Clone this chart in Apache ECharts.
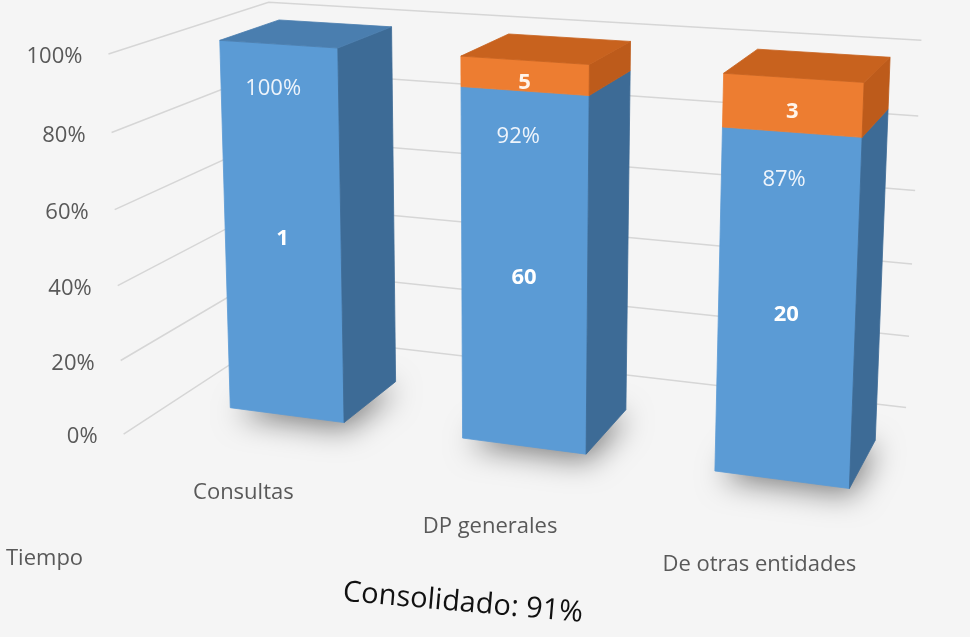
<!DOCTYPE html>
<html><head><meta charset="utf-8">
<script src="https://cdn.jsdelivr.net/npm/echarts@6/dist/echarts.min.js"></script>
<style>html,body{margin:0;padding:0;background:#f5f5f5}#c{width:970px;height:637px}</style>
</head><body><div id="c"></div>
<script>
// ---- data ----
const categories = ['Consultas', 'DP generales', 'De otras entidades'];
const onTime = [1, 60, 20];   // blue segment (count)
const late = [0, 5, 3];       // orange segment (count)
const yTicks = [0, 20, 40, 60, 80, 100];
const legendLabel = 'Tiempo';
const summaryLabel = 'Consolidado';

const totals = categories.map((_, i) => onTime[i] + late[i]);
const bluePct = onTime.map((v, i) => v / totals[i] * 100);
const orangePct = late.map((v, i) => v / totals[i] * 100);
const consolidated = Math.round(onTime.reduce((a, b) => a + b, 0) / totals.reduce((a, b) => a + b, 0) * 100);

// ---- 3D look (layout only) ----
const CAM = { yaw: 20, pitch: 12, focal: 2100, px: 505, py: 120 };
const BAR_RATIO = 0.5, DEPTH_RATIO = 0.52, WALL_FRONT = -0.41, WALL_BACK = 0.93, WALL_RIGHT_INSET = 0.2;
const FONT = '"Open Sans", "Noto Sans", sans-serif';
const COL = {
  blue: { front: '#5b9bd5', side: '#3d6b96', top: '#4a7eaf' },
  orange: { front: '#ed7d31', side: '#bd5b1b', top: '#c8621e' }
};

function project(X, Y, Z) {
  const a = CAM.yaw * Math.PI / 180, b = CAM.pitch * Math.PI / 180;
  const xr = X - CAM.px, yw = -(Y - CAM.py);
  const x1 = xr * Math.cos(a) + Z * Math.sin(a);
  const z1 = -xr * Math.sin(a) + Z * Math.cos(a);
  const y2 = yw * Math.cos(b) + z1 * Math.sin(b);
  const z2 = -yw * Math.sin(b) + z1 * Math.cos(b);
  const s = CAM.focal / (CAM.focal + z2);
  return [CAM.px + s * x1, CAM.py - s * y2];
}
function poly(pts, color, extra) {
  return Object.assign({
    type: 'polygon',
    shape: { points: pts.map(p => project(p[0], p[1], p[2])) },
    style: { fill: color, stroke: color, lineWidth: 0.8 }
  }, extra || {});
}
function segment(x0, x1, ya, yb, d, col, withTop) {
  const out = [
    poly([[x0, ya, 0], [x1, ya, 0], [x1, yb, 0], [x0, yb, 0]], col.front),
    poly([[x1, ya, 0], [x1, ya, d], [x1, yb, d], [x1, yb, 0]], col.side)
  ];
  if (withTop) out.push(poly([[x0, yb, 0], [x1, yb, 0], [x1, yb, d], [x0, yb, d]], col.top));
  return out;
}
function label(p, text, opts) {
  return {
    type: 'text', x: p[0], y: p[1],
    style: Object.assign({ text: text, align: 'center', verticalAlign: 'middle', font: '22px ' + FONT, fill: '#fff' }, opts || {})
  };
}

const chart = echarts.init(document.getElementById('c'));
chart.setOption({
  backgroundColor: '#f5f5f5',
  animation: false,
  grid: { left: 120.5, right: 39.5, top: 58, bottom: 175 },
  xAxis: { type: 'category', data: categories, show: false },
  yAxis: { type: 'value', min: 0, max: 100, interval: 20, show: false },
  series: [
    {
      type: 'custom', coordinateSystem: 'cartesian2d', clip: false, z: 1,
      data: yTicks.map(v => [0, v]),
      renderItem(params, api) {
        const cs = params.coordSys;
        const band = cs.width / categories.length;
        const v = api.value(1);
        const y = api.coord([0, v])[1];
        const xl = cs.x, xr = cs.x + cs.width - WALL_RIGHT_INSET * band;
        const zf = WALL_FRONT * band, zb = WALL_BACK * band;
        const p0 = project(xl, y, zf), p1 = project(xl, y, zb), p2 = project(xr, y, zb);
        return {
          type: 'group', children: [
            { type: 'polyline', shape: { points: [p0, p1, p2] }, style: { stroke: '#d6d6d6', lineWidth: 1.5, fill: null } },
            label([p0[0] - 26, p0[1] + 3], v + '%', { align: 'right', fill: '#595959' })
          ]
        };
      }
    },
    {
      type: 'custom', coordinateSystem: 'cartesian2d', clip: false, z: 2,
      data: categories.map((c, i) => [i, bluePct[i], orangePct[i], onTime[i], late[i]]),
      renderItem(params, api) {
        const i = api.value(0);
        const blue = api.value(1), orange = api.value(2);
        const base = api.coord([i, 0]);
        const band = api.size([1, 0])[0];
        const w = band * BAR_RATIO, d = band * DEPTH_RATIO;
        const cx = base[0], x0 = cx - w / 2, x1 = cx + w / 2;
        const yB = base[1];
        const yM = api.coord([i, blue])[1];
        const yT = api.coord([i, blue + orange])[1];
        const ch = [];
        const sh = 6;
        ch.push(poly([[x0 + sh, yB - 4, 0], [x1, yB - 4, 0], [x1, yB - 4, d - sh], [x0 + sh, yB - 4, d - sh]], '#8c8c8c', {
          style: { fill: '#8c8c8c', shadowBlur: 30, shadowColor: 'rgba(0,0,0,0.5)', shadowOffsetX: 2, shadowOffsetY: 10 }
        }));
        ch.push(...segment(x0, x1, yB, yM, d, COL.blue, orange <= 0));
        if (orange > 0) ch.push(...segment(x0, x1, yM, yT, d, COL.orange, true));
        // labels
        const pPct = project(cx, api.coord([i, blue - 11.5])[1], 0);
        ch.push(label([pPct[0] - 6, pPct[1]], Math.round(blue) + '%', { fill: '#eef4fb' }));
        const pCnt = project(cx, api.coord([i, blue / 2])[1], 0);
        ch.push(label([pCnt[0], pCnt[1] + 6], String(api.value(3)), { font: 'bold 22px ' + FONT }));
        if (orange > 0) {
          const pO = project(cx, api.coord([i, blue + orange / 2])[1], 0);
          ch.push(label([pO[0], pO[1] + 7], String(api.value(4)), { font: 'bold 22px ' + FONT, fill: '#fff4ea' }));
        }
        const pCat = project(cx, yB, WALL_FRONT * band);
        ch.push(label([pCat[0] + 4, pCat[1] + 43], categories[i], { fill: '#595959' }));
        return { type: 'group', children: ch };
      }
    }
  ],
  graphic: [
    { type: 'text', left: 6, top: 548, style: { text: legendLabel, font: '22px ' + FONT, fill: '#595959' } },
    { type: 'text', x: 463, y: 603, rotation: -5 * Math.PI / 180,
      style: { text: summaryLabel + ': ' + consolidated + '%', font: '29px ' + FONT, fill: '#111', align: 'center', verticalAlign: 'middle' } }
  ]
});
</script></body></html>
